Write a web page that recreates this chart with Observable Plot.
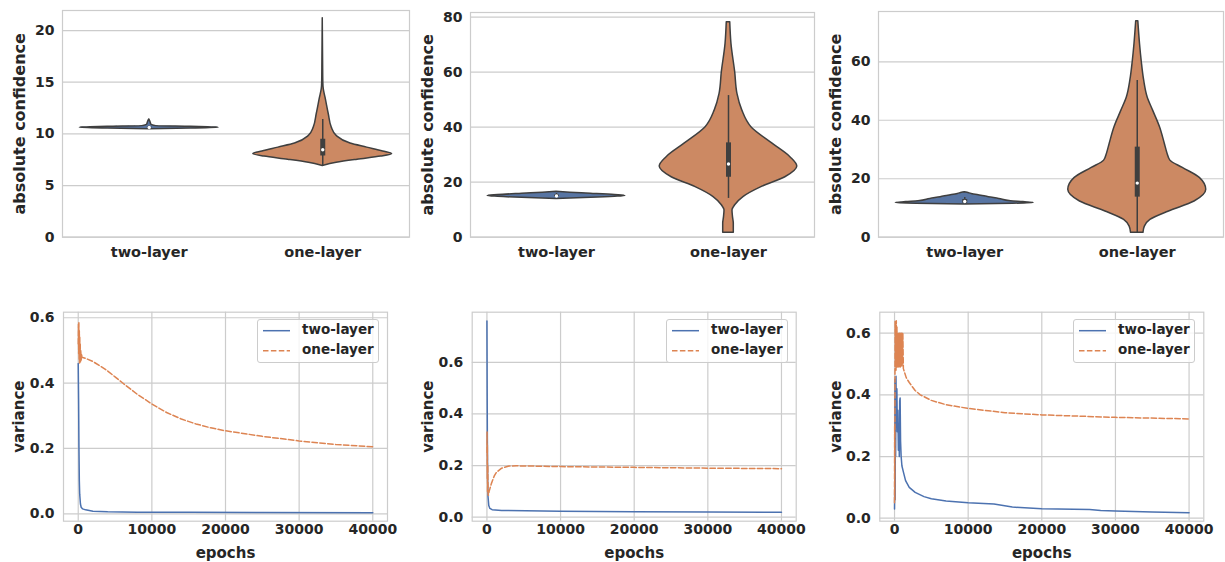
<!DOCTYPE html>
<html><head><meta charset="utf-8">
<script src="https://cdn.jsdelivr.net/npm/d3@7"></script>
<script src="https://cdn.jsdelivr.net/npm/@observablehq/plot@0.6"></script>
<style>
body{margin:0;background:#fff;}
#root{position:relative;width:1225px;height:562px;overflow:hidden;font-family:"DejaVu Sans",sans-serif;font-weight:bold;color:#262626;background:#fff;}
.panel{position:absolute;}
.legend{position:absolute;border:1px solid #cccccc;border-radius:3px;background:rgba(255,255,255,0.8);box-sizing:border-box;}
.legend span{position:absolute;font-size:13.5px;line-height:1;white-space:nowrap;}
.legend svg{position:absolute;left:0;top:0;}
</style></head><body><div id="root"></div><script>
const categories = ["two-layer", "one-layer"];
const seriesNames = ["two-layer", "one-layer"];

// violin outlines: [value, relative half-width]
const conf1TwoLayer = [[10.45,0],[10.52,0.6],[10.6,1],[10.68,0.6],[10.75,0.1],[10.9,0.03],[11.1,0.02],[11.4,0]];
const conf1OneLayer = [[6.9,0],[7.2,0.2],[7.5,0.5],[7.8,0.84],[8.05,1],[8.3,0.87],[8.67,0.64],[9.06,0.4],[9.8,0.2],[10.6,0.13],[11.9,0.087],[13.5,0.04],[14.3,0.015],[15,0.008],[17,0.005],[21.2,0]];
const conf2TwoLayer = [[13.9,0],[14.3,0.5],[14.7,0.85],[15,1],[15.3,0.85],[15.8,0.5],[16.2,0.2],[16.5,0]];
const conf2OneLayer = [[1.6,0.077],[4.9,0.077],[7.4,0.065],[9.8,0.058],[11.6,0.097],[14.6,0.217],[18.2,0.478],[21.8,0.826],[25.7,1],[29.1,0.9],[34,0.64],[40,0.333],[46.1,0.2],[52.1,0.13],[60,0.097],[70.3,0.043],[78.2,0.025]];
const conf3TwoLayer = [[11.2,0],[11.45,0.7],[11.7,1],[12.0,0.85],[12.3,0.67],[13.1,0.5],[13.7,0.35],[14.2,0.24],[14.8,0.1],[15.2,0.04],[15.4,0]];
const conf3OneLayer = [[1.5,0.09],[3.6,0.11],[5.9,0.19],[8.8,0.46],[12.2,0.83],[16.2,1],[20.2,0.91],[23.7,0.66],[26.2,0.48],[28.5,0.44],[31.9,0.4],[37.6,0.33],[43.3,0.23],[47.9,0.15],[53.6,0.1],[60.1,0.065],[66.1,0.04],[73.9,0.015]];

// inner box: [whisker low, q1, median, q3, whisker high]
const conf1Box = [[10.5,10.58,10.62,10.66,10.75],[6.9,7.86,8.47,9.48,11.4]];
const conf2Box = [[14.5,14.8,15.0,15.3,15.9],[14.1,21.8,26.6,34.3,51.5]];
const conf3Box = [[11.3,11.6,12.2,12.9,13.6],[1.5,13.7,18.5,30.8,53.6]];

// variance curves: [epoch, variance]
const var1TwoLayer = [[0,0.46],[50,0.35],[100,0.2],[150,0.1],[200,0.06],[300,0.03],[400,0.02],[600,0.015],[1000,0.012],[2000,0.008],[4000,0.006],[8000,0.005],[15000,0.0045],[25000,0.004],[40000,0.003]];
const var1OneLayer = [[0,0.52],[30,0.58],[60,0.49],[90,0.585],[120,0.47],[150,0.56],[180,0.46],[210,0.54],[240,0.47],[270,0.52],[300,0.465],[350,0.5],[400,0.47],[450,0.49],[500,0.479],[1000,0.476],[2000,0.466],[3000,0.452],[4000,0.437],[5000,0.419],[6000,0.401],[8000,0.366],[10000,0.336],[12000,0.31],[14000,0.29],[16000,0.275],[18000,0.263],[20000,0.254],[25000,0.237],[30000,0.223],[35000,0.212],[40000,0.205]];
const var2TwoLayer = [[0,0.76],[30,0.5],[60,0.3],[100,0.15],[150,0.08],[250,0.045],[400,0.034],[700,0.029],[2000,0.026],[10000,0.023],[20000,0.021],[30000,0.02],[40000,0.019]];
const var2OneLayer = [[0,0.25],[20,0.33],[40,0.15],[60,0.28],[80,0.1],[120,0.2],[160,0.09],[200,0.085],[300,0.1],[600,0.13],[1000,0.16],[1300,0.174],[2000,0.19],[3000,0.198],[4000,0.199],[6000,0.198],[10000,0.196],[20000,0.193],[30000,0.19],[40000,0.188]];
const var3TwoLayer = [[0,0.03],[30,0.1],[60,0.45],[90,0.06],[120,0.4],[150,0.2],[200,0.46],[260,0.3],[320,0.42],[380,0.28],[450,0.35],[520,0.22],[600,0.3],[650,0.2],[700,0.38],[760,0.39],[820,0.25],[900,0.2],[1000,0.17],[1200,0.15],[1500,0.122],[2000,0.1],[2800,0.084],[4000,0.07],[5000,0.063],[7000,0.056],[10000,0.05],[13500,0.046],[16000,0.036],[20000,0.031],[26500,0.028],[28000,0.025],[30000,0.023],[35000,0.02],[40000,0.018]];
const var3OneLayer = [[0,0.05],[20,0.3],[40,0.06],[60,0.45],[80,0.64],[120,0.5],[160,0.63],[200,0.48],[240,0.64],[280,0.5],[330,0.62],[380,0.49],[430,0.6],[480,0.5],[530,0.6],[580,0.49],[630,0.6],[680,0.5],[730,0.6],[780,0.49],[830,0.6],[880,0.5],[930,0.6],[980,0.49],[1030,0.6],[1080,0.5],[1130,0.6],[1200,0.485],[1600,0.455],[2000,0.44],[2800,0.414],[3500,0.4],[5000,0.382],[7000,0.368],[10000,0.356],[15000,0.342],[20000,0.335],[30000,0.327],[40000,0.322]];

const epochTicks = [0,10000,20000,30000,40000];
const lineColors = ["#4c72b0","#dd8452"];
const violinFill = ["#5875a3","#cc8963"];
const gridColor = "#cccccc";
const ink = "#3f3f3f";

const root = document.getElementById("root");
function place(node, left, top) {
  const d = document.createElement("div");
  d.className = "panel"; d.style.left = left + "px"; d.style.top = top + "px";
  d.appendChild(node); root.appendChild(d);
}
const svgStyle = {fontFamily:"'DejaVu Sans', sans-serif", fontWeight:"bold", color:"#262626", background:"transparent", overflow:"visible"};

function violinPanel(profiles, boxes, yDomain, yTicks, ml, mr, mt) {
  const marks = [
    Plot.gridY({ticks: yTicks, stroke: gridColor, strokeOpacity: 1, strokeWidth: 1.2}),
    Plot.frame({stroke: gridColor, strokeWidth: 1.2})
  ];
  profiles.forEach((prof, i) => {
    marks.push(Plot.areaX(prof, {y: d => d[0], x1: d => i - d[1]*0.4, x2: d => i + d[1]*0.4,
      fill: violinFill[i], stroke: ink, strokeWidth: 1.5, curve: "monotone-y"}));
  });
  const boxData = boxes.map((b, i) => ({i, lo: b[0], q1: b[1], med: b[2], q3: b[3], hi: b[4]}));
  marks.push(
    Plot.ruleX(boxData, {x: "i", y1: "lo", y2: "hi", stroke: ink, strokeWidth: 1.5}),
    Plot.ruleX(boxData, {x: "i", y1: "q1", y2: "q3", stroke: ink, strokeWidth: 5}),
    Plot.dot(boxData, {x: "i", y: "med", r: 1.7, fill: "white", stroke: null}),
    Plot.axisX({ticks: [0,1], tickFormat: i => categories[i], tickSize: 0, tickPadding: 10, fontSize: 14.5, label: null}),
    Plot.axisY({ticks: yTicks, tickFormat: "d", tickSize: 0, tickPadding: 8, fontSize: 14, label: null}),
    Plot.text(["absolute confidence"], {text: d => d, frameAnchor: "left", textAnchor: "middle", rotate: -90, dx: -43, fontSize: 16})
  );
  return Plot.plot({width: 410, height: 270, marginLeft: ml, marginRight: mr, marginTop: mt, marginBottom: 270 - 236.7,
    style: svgStyle, x: {domain: [-0.5, 1.5]}, y: {domain: yDomain}, marks});
}

function linePanel(two, one, yDomain, ml, mr) {
  const yTicks = [0, 0.2, 0.4, 0.6];
  return Plot.plot({width: 410, height: 272, marginLeft: ml, marginRight: mr, marginTop: 21.7, marginBottom: 41.3,
    style: svgStyle, x: {domain: [-2000, 42000]}, y: {domain: yDomain},
    marks: [
      Plot.gridX({ticks: epochTicks, stroke: gridColor, strokeOpacity: 1, strokeWidth: 1.2}),
      Plot.gridY({ticks: yTicks, stroke: gridColor, strokeOpacity: 1, strokeWidth: 1.2}),
      Plot.line(two, {x: d => d[0], y: d => d[1], stroke: lineColors[0], strokeWidth: 1.5}),
      Plot.line(one, {x: d => d[0], y: d => d[1], stroke: lineColors[1], strokeWidth: 1.5, strokeDasharray: "5.5,2.4"}),
      Plot.frame({stroke: gridColor, strokeWidth: 1.2}),
      Plot.axisX({ticks: epochTicks, tickFormat: "d", tickSize: 0, tickPadding: 3, fontSize: 14, label: null}),
      Plot.axisY({ticks: yTicks, tickFormat: ".1f", tickSize: 0, tickPadding: 9, fontSize: 14, label: null}),
      Plot.text(["epochs"], {text: d => d, frameAnchor: "bottom", textAnchor: "middle", dy: 37, fontSize: 15}),
      Plot.text(["variance"], {text: d => d, frameAnchor: "left", textAnchor: "middle", rotate: -90, dx: -44, fontSize: 15})
    ]});
}

function legend(left, top) {
  const d = document.createElement("div");
  d.className = "legend";
  d.style.left = left + "px"; d.style.top = top + "px"; d.style.width = "122px"; d.style.height = "44px";
  const ns = "http://www.w3.org/2000/svg";
  const svg = document.createElementNS(ns, "svg");
  svg.setAttribute("width", 122); svg.setAttribute("height", 44);
  seriesNames.forEach((name, i) => {
    const yy = 10.7 + i * 20;
    const l = document.createElementNS(ns, "line");
    l.setAttribute("x1", 5); l.setAttribute("x2", 32); l.setAttribute("y1", yy); l.setAttribute("y2", yy);
    l.setAttribute("stroke", lineColors[i]); l.setAttribute("stroke-width", 1.5);
    if (i === 1) l.setAttribute("stroke-dasharray", "5.5,2.4");
    svg.appendChild(l);
    const s = document.createElement("span");
    s.textContent = name; s.style.left = "44px"; s.style.top = (yy - 8) + "px";
    d.appendChild(s);
  });
  d.appendChild(svg);
  root.appendChild(d);
}

place(violinPanel([conf1TwoLayer, conf1OneLayer], conf1Box, [0, 21.94], [0,5,10,15,20], 62, 1, 10), 0, 0);
place(violinPanel([conf2TwoLayer, conf2OneLayer], conf2Box, [0, 81.7], [0,20,40,60,80], 60, 6, 12), 410, 0);
place(violinPanel([conf3TwoLayer, conf3OneLayer], conf3Box, [0, 77.2], [0,20,40,60], 63, 2, 11), 815, 0);
place(linePanel(var1TwoLayer, var1OneLayer, [-0.0227, 0.617], 63, 23), 0, 290);
place(linePanel(var2TwoLayer, var2OneLayer, [-0.0155, 0.794], 61.7, 24.3), 410, 290);
place(linePanel(var3TwoLayer, var3OneLayer, [-0.0097, 0.668], 64.3, 21.7), 815, 290);
legend(257, 319);
legend(666, 319);
legend(1073, 319);
</script></body></html>
